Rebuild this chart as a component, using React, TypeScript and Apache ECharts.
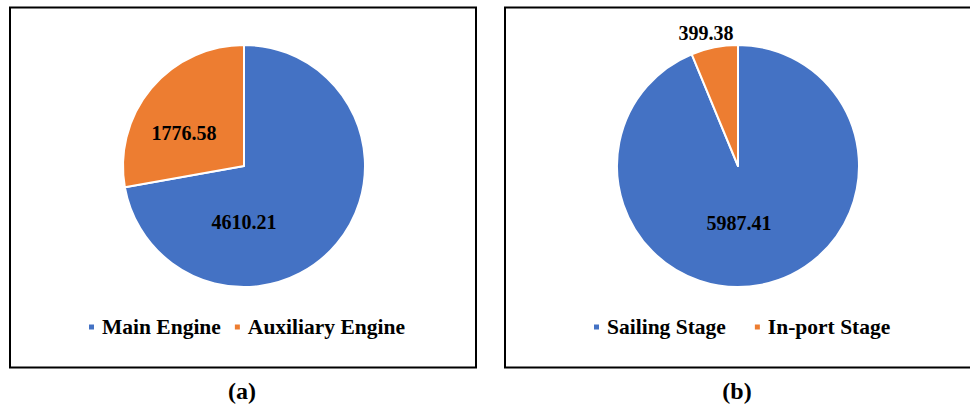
import React, { useEffect, useRef } from "react";
import * as echarts from "echarts";

const engineNames = ["Main Engine", "Auxiliary Engine"];
const engineValues = [4610.21, 1776.58];
const stageNames = ["Sailing Stage", "In-port Stage"];
const stageValues = [5987.41, 399.38];
const captions = ["(a)", "(b)"];

const BLUE = "#4472C4";
const ORANGE = "#ED7D31";
const FONT = "Liberation Serif";

// label anchor positions (pixel layout, not data)
const labelPosA = [
  [244, 222],
  [184, 132.5],
];
const labelPosB = [
  [739, 223],
  [706, 33],
];

export default function App() {
  const ref = useRef<HTMLDivElement>(null);
  useEffect(() => {
    if (!ref.current) return;
    const chart = echarts.init(ref.current, null, { renderer: "svg" });
    const mk = (names: string[], values: number[]) =>
      names.map((n, i) => ({ name: n, value: values[i] }));
    const labelStyle = {
      show: true,
      position: "inside",
      formatter: (p: any) => p.value.toFixed(2),
      fontFamily: FONT,
      fontWeight: "bold",
      fontSize: 20,
      color: "#000",
    };
    const legendText = {
      fontFamily: FONT,
      fontWeight: "bold",
      fontSize: 21.5,
      color: "#000",
      padding: [0, 0, 0, 2],
    };
    const caption = (text: string, x: number) => ({
      type: "text",
      x,
      y: 391,
      style: {
        text,
        fontFamily: FONT,
        fontWeight: "bold",
        fontSize: 24,
        fill: "#000",
        align: "center",
        verticalAlign: "middle",
      },
    });
    chart.setOption({
      animation: false,
      backgroundColor: "#fff",
      color: [BLUE, ORANGE],
      textStyle: { fontFamily: FONT },
      legend: [
        {
          data: engineNames,
          left: 87,
          top: 316,
          padding: 0,
          icon: "rect",
          itemWidth: 7,
          itemHeight: 7,
          itemGap: 12,
          textStyle: legendText,
          selectedMode: false,
        },
        {
          data: stageNames,
          left: 592,
          top: 316,
          padding: 0,
          icon: "rect",
          itemWidth: 7,
          itemHeight: 7,
          itemGap: 27,
          textStyle: legendText,
          selectedMode: false,
        },
      ],
      graphic: [
        {
          type: "rect",
          shape: { x: 10, y: 7.5, width: 466, height: 360 },
          style: { fill: "none", stroke: "#000", lineWidth: 2 },
          z: 0,
        },
        {
          type: "rect",
          shape: { x: 505, y: 7.5, width: 470, height: 360 },
          style: { fill: "none", stroke: "#000", lineWidth: 2 },
          z: 0,
        },
        caption(captions[0], 242),
        caption(captions[1], 737),
      ],
      series: [
        {
          type: "pie",
          center: [244, 166],
          radius: 121,
          startAngle: 90,
          clockwise: true,
          data: mk(engineNames, engineValues),
          itemStyle: { borderColor: "#fff", borderWidth: 2 },
          label: labelStyle,
          labelLine: { show: false },
          labelLayout: (p: any) => ({
            x: labelPosA[p.dataIndex][0],
            y: labelPosA[p.dataIndex][1],
            align: "center",
            verticalAlign: "middle",
          }),
          emphasis: { disabled: true },
        },
        {
          type: "pie",
          center: [738, 166],
          radius: 121,
          startAngle: 90,
          clockwise: true,
          data: mk(stageNames, stageValues),
          itemStyle: { borderColor: "#fff", borderWidth: 2 },
          label: labelStyle,
          labelLine: { show: false },
          labelLayout: (p: any) => ({
            x: labelPosB[p.dataIndex][0],
            y: labelPosB[p.dataIndex][1],
            align: "center",
            verticalAlign: "middle",
          }),
          emphasis: { disabled: true },
        },
      ],
    });
    return () => chart.dispose();
  }, []);
  return (
    <div
      ref={ref}
      style={{ position: "fixed", left: 0, top: 0, width: 970, height: 408 }}
    />
  );
}
